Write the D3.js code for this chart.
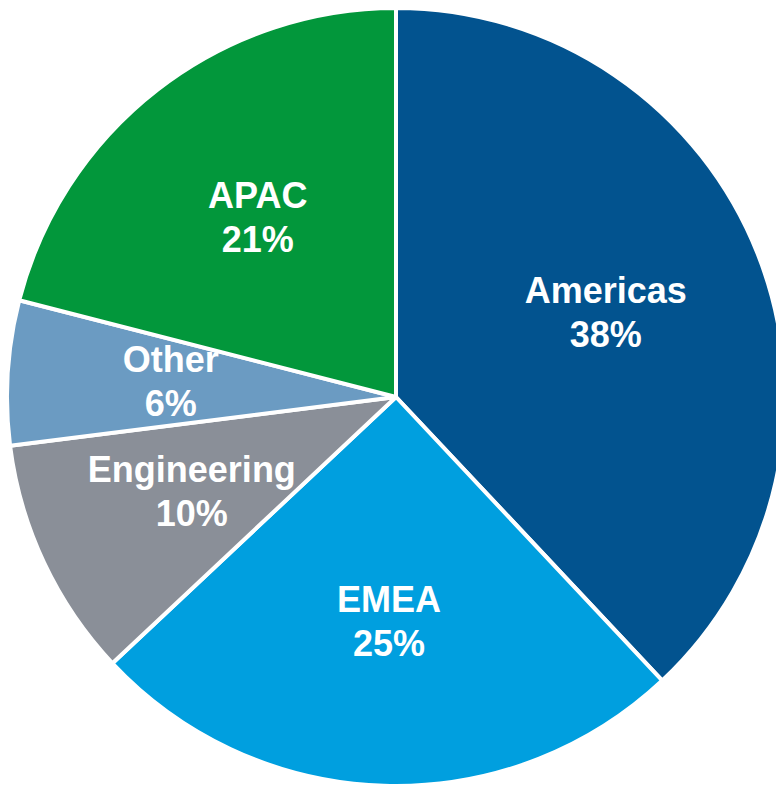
<!DOCTYPE html>
<html>
<head>
<meta charset="utf-8">
<script src="https://cdn.jsdelivr.net/npm/d3@7"></script>
<style>
  html, body { margin: 0; padding: 0; background: #fff; overflow: hidden; }
  svg { display: block; }
</style>
</head>
<body>
<svg id="chart" width="776" height="786"></svg>
<script>
// Revenue share by region
const categories = ["Americas", "EMEA", "Engineering", "Other", "APAC"];
const shares = [38, 25, 10, 6, 21];
const colors = ["#02538F", "#009FDF", "#8A8F98", "#6B9BC2", "#02973B"];

const width = 776, height = 786;
const cx = 396, cy = 397, radius = 389;

const svg = d3.select("#chart");
const g = svg.append("g").attr("transform", `translate(${cx},${cy})`);

const data = categories.map((c, i) => ({ name: c, value: shares[i], color: colors[i] }));

const pie = d3.pie()
  .value(d => d.value)
  .sort(null)
  .startAngle(0)
  .endAngle(2 * Math.PI);

const arc = d3.arc().innerRadius(0).outerRadius(radius);
const labelArc = d3.arc().innerRadius(radius * 0.58).outerRadius(radius * 0.58);

const arcs = pie(data);

g.selectAll("path.slice")
  .data(arcs)
  .join("path")
  .attr("class", "slice")
  .attr("d", arc)
  .attr("fill", d => d.data.color)
  .attr("stroke", "#fff")
  .attr("stroke-width", 4)
  .attr("stroke-linejoin", "round");

const labels = g.selectAll("text.label")
  .data(arcs)
  .join("text")
  .attr("class", "label")
  .attr("transform", d => `translate(${labelArc.centroid(d)})`)
  .attr("text-anchor", "middle")
  .attr("fill", "#fff")
  .style("font-family", "'Liberation Sans', Arial, sans-serif")
  .style("font-weight", "bold")
  .style("font-size", "36px");

labels.append("tspan")
  .attr("x", 0)
  .attr("dy", "-0.3em")
  .text(d => d.data.name);

labels.append("tspan")
  .attr("x", 0)
  .attr("dy", "1.22em")
  .text(d => d.data.value + "%");
</script>
</body>
</html>
